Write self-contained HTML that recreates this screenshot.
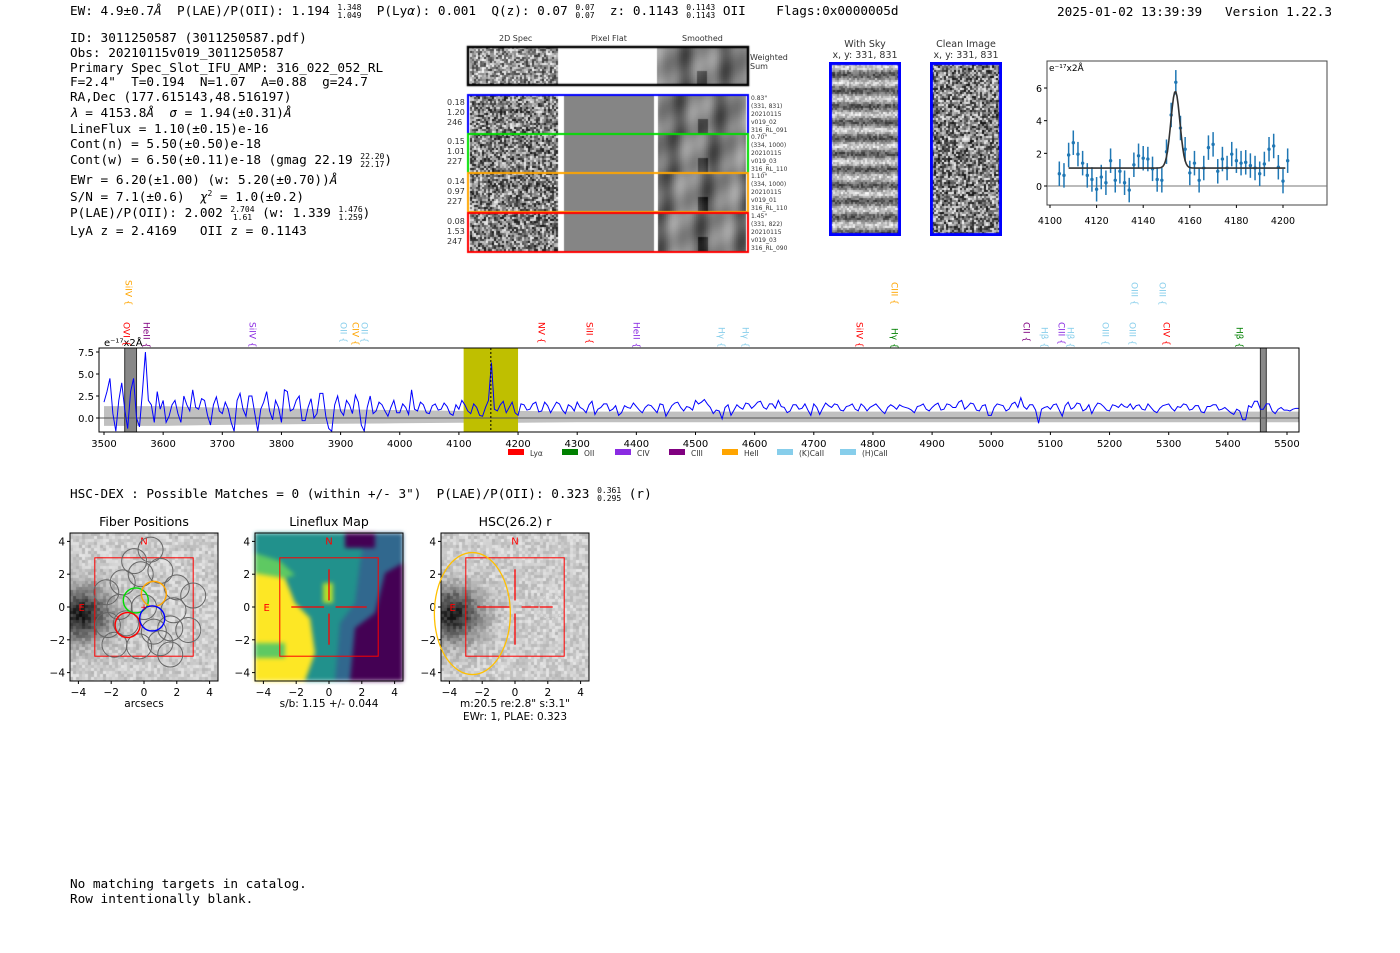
<!DOCTYPE html>
<html><head><meta charset="utf-8">
<style>
body{margin:0;background:#fff;width:1400px;height:953px;position:relative;overflow:hidden;font-family:"DejaVu Sans","Liberation Sans",sans-serif}
.mono{font-family:"DejaVu Sans Mono","Liberation Mono",monospace;font-size:12.7px;position:absolute;white-space:nowrap;color:#000}
.sm{font-size:8px;position:absolute;white-space:nowrap;color:#333}
sup,sub{font-size:8px}
.frac{display:inline-block;vertical-align:middle;font-size:8px;line-height:8px;text-align:center}
canvas{position:absolute}
</style></head><body>
<div class="mono" style="left:70px;top:3px">EW: 4.9±0.7<i>Å</i>&nbsp; P(LAE)/P(OII): 1.194 <span class="frac">1.348<br>1.049</span>&nbsp; P(Ly<i>α</i>): 0.001&nbsp; Q(z): 0.07 <span class="frac">0.07<br>0.07</span>&nbsp; z: 0.1143 <span class="frac">0.1143<br>0.1143</span> OII&nbsp;&nbsp;&nbsp; Flags:0x0000005d</div>
<div class="mono" style="left:1057px;top:4px">2025-01-02 13:39:39&nbsp;&nbsp; Version 1.22.3</div>
<div>
<div class="mono" style="left:70px;top:30px">ID: 3011250587 (3011250587.pdf)</div>
<div class="mono" style="left:70px;top:45px">Obs: 20210115v019_3011250587</div>
<div class="mono" style="left:70px;top:60px">Primary Spec_Slot_IFU_AMP: 316_022_052_RL</div>
<div class="mono" style="left:70px;top:74px">F=2.4"&nbsp; T=0.194&nbsp; N=1.07&nbsp; A=0.88&nbsp; g=24.7</div>
<div class="mono" style="left:70px;top:89px">RA,Dec (177.615143,48.516197)</div>
<div class="mono" style="left:70px;top:105px"><i>λ</i> = 4153.8<i>Å</i>&nbsp; <i>σ</i> = 1.94(±0.31)<i>Å</i></div>
<div class="mono" style="left:70px;top:121px">LineFlux = 1.10(±0.15)e-16</div>
<div class="mono" style="left:70px;top:136px">Cont(n) = 5.50(±0.50)e-18</div>
<div class="mono" style="left:70px;top:152px">Cont(w) = 6.50(±0.11)e-18 (gmag 22.19 <span class="frac">22.20<br>22.17</span>)</div>
<div class="mono" style="left:70px;top:172px">EWr = 6.20(±1.00) (w: 5.20(±0.70))<i>Å</i></div>
<div class="mono" style="left:70px;top:189px">S/N = 7.1(±0.6)&nbsp; <i>χ</i><sup>2</sup> = 1.0(±0.2)</div>
<div class="mono" style="left:70px;top:205px">P(LAE)/P(OII): 2.002 <span class="frac">2.704<br>1.61</span> (w: 1.339 <span class="frac">1.476<br>1.259</span>)</div>
<div class="mono" style="left:70px;top:223px">LyA z = 2.4169&nbsp;&nbsp; OII z = 0.1143</div>
</div>

<div class="sm" style="left:499px;top:34px">2D Spec</div>
<div class="sm" style="left:591px;top:34px">Pixel Flat</div>
<div class="sm" style="left:682px;top:34px">Smoothed</div>
<canvas id="cut" width="300" height="215" style="left:460px;top:42px"></canvas>
<div class="sm" style="left:750px;top:53px;line-height:9px">Weighted<br>Sum</div>
<div class="sm" style="left:447px;top:98px;line-height:10px">0.18<br>1.20<br>246</div>
<div class="sm" style="left:447px;top:137px;line-height:10px">0.15<br>1.01<br>227</div>
<div class="sm" style="left:447px;top:177px;line-height:10px">0.14<br>0.97<br>227</div>
<div class="sm" style="left:447px;top:217px;line-height:10px">0.08<br>1.53<br>247</div>
<div class="sm" style="left:751px;top:95px;line-height:8px;font-size:6px">0.83"<br>(331, 831)<br>20210115<br>v019_02<br>316_RL_091</div>
<div class="sm" style="left:751px;top:134px;line-height:8px;font-size:6px">0.70"<br>(334, 1000)<br>20210115<br>v019_03<br>316_RL_110</div>
<div class="sm" style="left:751px;top:173px;line-height:8px;font-size:6px">1.10"<br>(334, 1000)<br>20210115<br>v019_01<br>316_RL_110</div>
<div class="sm" style="left:751px;top:213px;line-height:8px;font-size:6px">1.45"<br>(331, 822)<br>20210115<br>v019_03<br>316_RL_090</div>

<div class="sm" style="left:825px;top:39px;font-size:9.5px;text-align:center;width:80px;line-height:11px">With Sky<br>x, y: 331, 831</div>
<div class="sm" style="left:926px;top:39px;font-size:9.5px;text-align:center;width:80px;line-height:11px">Clean Image<br>x, y: 331, 831</div>
<canvas id="sky" width="72" height="174" style="left:829px;top:62px"></canvas>
<canvas id="clean" width="72" height="174" style="left:930px;top:62px"></canvas>

<svg id="inset" width="1400" height="953" style="position:absolute;left:0;top:0"></svg>

<div class="mono" style="left:70px;top:486px">HSC-DEX : Possible Matches = 0 (within +/- 3")&nbsp; P(LAE)/P(OII): 0.323 <span class="frac">0.361<br>0.295</span> (r)</div>
<canvas id="fib" width="148" height="148" style="left:70px;top:533px"></canvas>
<canvas id="lfm" width="148" height="148" style="left:255px;top:533px;filter:blur(2px)"></canvas>
<svg id="ov" width="1400" height="953" style="position:absolute;left:0;top:0"></svg>
<canvas id="hsc" width="148" height="148" style="left:441px;top:533px"></canvas>
<svg id="ov2" width="1400" height="953" style="position:absolute;left:0;top:0"></svg>
<div class="mono" style="left:70px;top:876px;line-height:15px">No matching targets in catalog.<br>Row intentionally blank.</div>

<script>
// ===== main spectrum data (5 Å steps from 3500) =====
const specStart = 3500, specStep = 5;
const specFlux = [
1.8,3.0,4.5,0.5,-1.5,2.0,4.0,1.0,-1.2,3.0,4.5,0.0,-1.0,3.0,7.5,2.0,1.5,-0.5,3.0,1.0,
2.0,-0.5,0.2,1.5,2.0,0.5,-0.5,2.5,1.5,0.8,3.2,1.2,1.0,2.2,2.0,0.3,-0.8,1.5,2.4,0.8,
0.5,1.8,1.0,-0.5,-1.5,2.0,2.8,1.0,0.2,2.5,2.5,0.5,-1.5,1.0,1.8,3.0,0.8,-0.2,2.0,1.2,
-0.5,3.2,3.0,0.8,1.0,2.0,2.5,-0.3,-0.3,1.2,2.2,0.0,0.5,2.8,2.8,0.2,-1.2,-1.5,1.5,2.5,
0.8,0.3,2.0,1.5,0.5,2.6,1.8,-0.8,-1.5,1.2,2.5,0.5,0.8,1.8,1.5,0.8,0.2,1.2,2.0,0.6,
0.6,1.6,1.2,0.4,3.2,1.0,0.8,1.8,1.5,0.6,0.5,1.4,1.6,0.9,1.0,1.7,1.3,0.5,0.3,1.5,
1.0,2.0,1.5,0.8,0.5,1.6,1.2,0.3,0.2,1.2,2.0,6.3,1.0,0.8,1.5,1.9,0.6,1.2,1.8,0.6,
0.3,1.6,1.5,0.9,1.0,1.6,1.8,0.7,0.8,1.8,1.4,0.6,1.2,1.8,1.6,0.9,0.5,1.5,1.3,0.8,
1.8,1.2,1.0,0.6,1.5,1.9,0.4,1.0,1.2,1.6,1.6,0.8,1.0,1.4,0.3,0.6,1.4,1.2,1.1,1.7,
1.3,0.9,0.6,1.2,1.5,1.4,1.0,0.6,1.6,1.5,0.2,0.8,1.4,1.7,1.8,1.2,0.8,1.3,1.2,0.9,
2.0,1.6,1.8,2.1,1.6,1.2,0.5,0.9,0.8,-0.1,1.2,1.5,0.3,0.9,1.5,1.2,1.0,1.7,1.6,1.1,
1.4,1.8,1.9,1.2,1.0,1.6,1.6,1.1,2.0,1.3,1.2,0.6,0.8,1.5,1.5,1.0,1.1,1.6,0.9,0.3,
1.6,1.2,0.4,1.1,1.7,1.4,1.2,1.6,1.5,0.9,0.8,1.3,1.4,1.6,1.0,0.8,1.6,1.3,0.8,1.2,
1.4,1.6,1.2,0.8,0.5,1.2,1.5,1.3,1.0,1.5,1.3,1.2,1.1,0.9,0.6,1.3,1.4,1.6,1.0,0.8,
1.2,1.5,1.7,0.9,1.0,1.6,1.5,1.2,1.2,1.8,2.0,1.0,1.3,1.7,1.6,0.9,0.8,1.4,1.5,0.3,
0.3,1.2,1.6,1.5,1.4,0.8,1.0,1.6,1.8,1.2,2.3,1.3,1.0,1.5,1.5,0.9,-0.6,1.0,1.2,1.3,
1.0,1.5,1.6,0.9,0.2,1.4,1.8,1.0,1.2,1.7,1.6,0.8,1.0,1.5,0.5,1.2,1.7,1.6,1.3,0.9,
0.8,1.5,1.4,1.2,1.6,1.3,1.2,1.6,1.0,1.4,1.5,1.0,0.9,1.6,1.2,0.8,0.6,1.1,1.4,1.5,
1.6,1.1,0.8,1.3,1.2,1.6,1.5,0.9,1.0,1.4,1.4,0.7,0.6,1.3,1.3,1.5,1.5,0.9,1.0,1.2,
0.9,0.6,0.4,1.0,0.8,-0.2,-0.2,1.4,1.2,1.9,1.9,1.0,1.0,1.6,1.6,0.8,0.5,1.0,1.2,0.9,
0.9,0.8,1.0,1.1,1.1];
const errWave = [3500,3600,3700,3800,3900,4000,4100,4200,4300,4400,4500,4600,4700,4800,4900,5000,5100,5200,5300,5400,5520];
const errVal  = [1.5,1.5,1.3,1.2,1.1,1.0,0.9,0.9,0.8,0.8,0.8,0.8,0.8,0.8,0.8,0.8,0.8,0.8,0.8,0.8,0.8];
const specXTicks = [3500,3600,3700,3800,3900,4000,4100,4200,4300,4400,4500,4600,4700,4800,4900,5000,5100,5200,5300,5400,5500];
const specYTicks = [0.0,2.5,5.0,7.5];
// ===== inset fit data =====
const fitWave = [];for(let w=4104;w<=4202;w+=2)fitWave.push(w);
const fitFlux = [0.75,0.65,1.9,2.65,1.95,1.4,0.65,0.4,-0.2,0.55,0.2,1.55,0.35,0.9,0.2,-0.25,1.3,1.85,1.7,1.65,1.05,0.4,0.35,2.1,4.35,6.35,3.55,2.25,0.8,1.4,0.35,1.1,2.35,2.55,0.9,1.65,1.1,1.95,1.55,1.4,1.45,1.25,1.1,0.75,1.35,2.25,2.45,1.15,0.3,1.55];
const fitErr = 0.75;
const fitCenter = 4153.8, fitSigma = 1.94, fitAmp = 4.7, fitCont = 1.1;
const insetXTicks = [4100,4120,4140,4160,4180,4200];
const insetYTicks = [0,2,4,6];

const NS='http://www.w3.org/2000/svg';
function el(parent,tag,attrs,txt){const e=document.createElementNS(NS,tag);for(const k in attrs)e.setAttribute(k,attrs[k]);if(txt!==undefined)e.textContent=txt;parent.appendChild(e);return e;}
const svg=document.getElementById('inset');

const sx=w=>104+(w-3500)*0.5915, sy=v=>418-v*8.8;
const PL=99,PR=1299,PT=348,PB=432;
const sp=el(svg,'g',{});


el(sp,'defs',{}).innerHTML='<clipPath id="cp"><rect x="'+PL+'" y="'+PT+'" width="'+(PR-PL)+'" height="'+(PB-PT)+'"/></clipPath>';
const g=el(sp,'g',{'clip-path':'url(#cp)'});
let up='',dn='';
errWave.forEach((w,i)=>{up+=sx(w)+','+sy(errVal[i]*0.9)+' ';});
for(let i=errWave.length-1;i>=0;i--)dn+=sx(errWave[i])+','+sy(-errVal[i]*0.6)+' ';
const band=el(g,'polygon',{points:up+dn,fill:'#c0c0c0'});


const hl=el(g,'rect',{x:sx(4108),y:PT,width:sx(4200)-sx(4108),height:PB-PT,fill:'#bfbf00'});


el(g,'rect',{x:sx(3535),y:PT,width:sx(3555)-sx(3535),height:PB-PT,fill:'#888',stroke:'#333','stroke-width':1});
el(g,'rect',{x:sx(5455),y:PT,width:sx(5465)-sx(5455),height:PB-PT,fill:'#888',stroke:'#333','stroke-width':1});
el(g,'line',{x1:PL,x2:PR,y1:sy(0),y2:sy(0),stroke:'#555','stroke-width':1});
let pts='';specFlux.forEach((v,i)=>{pts+=sx(specStart+i*specStep)+','+sy(v)+' ';});
const sl=el(g,'polyline',{points:pts,fill:'none',stroke:'#0000ff','stroke-width':1});


el(g,'line',{x1:sx(4154),x2:sx(4154),y1:PT,y2:PB,stroke:'#000','stroke-dasharray':'2,2','stroke-width':1});
el(sp,'rect',{x:PL,y:PT,width:PR-PL,height:PB-PT,fill:'none',stroke:'#000','stroke-width':1});
specXTicks.forEach(t=>{el(sp,'line',{x1:sx(t),x2:sx(t),y1:PB,y2:PB+3,stroke:'#000'});el(sp,'text',{x:sx(t),y:PB+15,'font-size':10,'text-anchor':'middle'},t);});
specYTicks.forEach(t=>{el(sp,'line',{x1:PL-3,x2:PL,y1:sy(t),y2:sy(t),stroke:'#000'});el(sp,'text',{x:PL-5,y:sy(t)+4,'font-size':10,'text-anchor':'end'},t.toFixed(1));});
el(sp,'text',{x:104,y:346,'font-size':10},'e⁻¹⁷x2Å');
const legNames=['Lyα','OII','CIV','CIII','HeII','(K)CaII','(H)CaII'];
const legCols=['#ff0000','#008000','#8a2be2','#800080','#ffa500','#87ceeb','#87ceeb'];
const legX=[508,562,615,669,722,777,840];
legNames.forEach((n,i)=>{const gg=el(sp,'g',{});
el(gg,'rect',{x:legX[i],y:449,width:16,height:6,fill:legCols[i]});el(gg,'text',{x:legX[i]+22,y:456,'font-size':7.5,fill:'#333'},n);});
const labs=[[128,280,'SiIV','#ffa500'],[126,322,'OVI','#ff0000'],[146,322,'HeII','#800080'],[252,322,'SiIV','#8a2be2'],[343,322,'OII','#87ceeb'],[355,322,'CIV','#ffa500'],[364,322,'OII','#87ceeb'],[541,322,'NV','#ff0000'],[589,322,'SiII','#ff0000'],[636,322,'HeII','#8a2be2'],[721,327,'Hγ','#87ceeb'],[745,327,'Hγ','#87ceeb'],[859,322,'SiIV','#ff0000'],[894,282,'CIII','#ffa500'],[894,328,'Hγ','#008000'],[1026,322,'CII','#800080'],[1044,327,'Hβ','#87ceeb'],[1061,322,'CIII','#8a2be2'],[1070,327,'Hβ','#87ceeb'],[1105,322,'OIII','#87ceeb'],[1134,282,'OIII','#87ceeb'],[1132,322,'OIII','#87ceeb'],[1162,282,'OIII','#87ceeb'],[1166,322,'CIV','#ff0000'],[1239,327,'Hβ','#008000']];
labs.forEach(l=>{const t=el(sp,'text',{x:l[0],y:l[1],'font-size':9,fill:l[3],transform:'rotate(90 '+l[0]+' '+l[1]+')','dominant-baseline':'middle'},l[2]+' {');});

const ix=w=>1050+(w-4100)*2.33, iy=v=>186-v*16.33;
const ig=el(svg,'g',{});


el(ig,'rect',{x:1047,y:61,width:280,height:144,fill:'#fff',stroke:'#444'});
el(ig,'line',{x1:1047,x2:1327,y1:iy(0),y2:iy(0),stroke:'#777'});
fitWave.forEach((w,i)=>{el(ig,'line',{x1:ix(w),x2:ix(w),y1:iy(fitFlux[i]-fitErr),y2:iy(fitFlux[i]+fitErr),stroke:'#1f77b4','stroke-width':1.5});
const c=el(ig,'circle',{cx:ix(w),cy:iy(fitFlux[i]),r:1.7,fill:'#1f77b4'});});
let fp='';for(let w=4108;w<=4201;w+=0.5){fp+=ix(w)+','+iy(fitCont+fitAmp*Math.exp(-0.5*((w-fitCenter)/fitSigma)**2))+' ';}
const fl=el(ig,'polyline',{points:fp,fill:'none',stroke:'#333','stroke-width':1.6});

insetXTicks.forEach(t=>{el(ig,'line',{x1:ix(t),x2:ix(t),y1:205,y2:208,stroke:'#000'});el(ig,'text',{x:ix(t),y:224,'font-size':9.5,'text-anchor':'middle'},t);});
insetYTicks.forEach(t=>{el(ig,'line',{x1:1044,x2:1047,y1:iy(t),y2:iy(t),stroke:'#000'});el(ig,'text',{x:1042,y:iy(t)+4,'font-size':9.5,'text-anchor':'end'},t);});
el(ig,'text',{x:1049,y:71,'font-size':9},'e⁻¹⁷x2Å');

function h(x,y,s){let n=(x*374761393+y*668265263+s*982451653)|0;n=(n^(n>>>13))*1274126177|0;return ((n^(n>>>16))>>>0)/4294967295;}
function noise(ctx,x0,y0,w,h0,base,amp,ps,seed){for(let y=0;y<h0;y+=ps)for(let x=0;x<w;x+=ps){const v=Math.max(0,Math.min(255,base+(h(x,y,seed)-0.5)*amp));ctx.fillStyle='rgb('+v+','+v+','+v+')';ctx.fillRect(x0+x,y0+y,ps,ps);}}
function smooth(ctx,x0,y0,w,h0,seed){for(let x=0;x<w;x+=2){const col=120+Math.sin(x/7+seed)*30+Math.sin(x/3.1+seed*2)*12;for(let y=0;y<h0;y+=2){let v=col+Math.sin(y/6+x/11+seed)*15;if(Math.abs(x-44)<6&&y>h0*0.6)v-=60;v=Math.max(0,Math.min(255,v));ctx.fillStyle='rgb('+v+','+v+','+v+')';ctx.fillRect(x0+x,y0+y,2,2);}}}
const cc=document.getElementById('cut').getContext('2d');
noise(cc,10,5,88,38,150,200,2,1);cc.fillStyle='#fff';cc.fillRect(98,5,99,38);smooth(cc,197,5,89,38,1);
cc.lineWidth=2.5;cc.strokeStyle='#000';cc.strokeRect(8,5,280,38);
const rowY=[53,92,131,171],rowC=['#0000ff','#00dd00','#ffa500','#ff0000'];
rowY.forEach((y,i)=>{noise(cc,10,y,88,39,130,220,2,10+i);cc.fillStyle='#fff';cc.fillRect(98,y,6,39);cc.fillStyle='#858585';cc.fillRect(104,y,90,39);cc.fillStyle='#fff';cc.fillRect(194,y,4,39);smooth(cc,198,y,88,39,2+i);});
rowY.forEach((y,i)=>{cc.strokeStyle=rowC[i];cc.lineWidth=2;cc.strokeRect(8,y,280,39);});
const sk=document.getElementById('sky').getContext('2d');
for(let y=0;y<174;y+=2)for(let x=0;x<72;x+=2){const stripe=Math.sin(y/174*2*Math.PI*11)*60;const v=Math.max(0,Math.min(255,150+stripe+(h(x,y,5)-0.5)*90));sk.fillStyle='rgb('+v+','+v+','+v+')';sk.fillRect(x,y,2,2);}
sk.strokeStyle='#0000ff';sk.lineWidth=3;sk.strokeRect(1.5,1.5,69,171);
const cl=document.getElementById('clean').getContext('2d');noise(cl,0,0,72,174,130,230,2,7);
cl.strokeStyle='#0000ff';cl.lineWidth=3;cl.strokeRect(1.5,1.5,69,171);
function galaxy(ctx,seed){for(let y=0;y<148;y+=3)for(let x=0;x<148;x+=3){const dx=(x-10)/28,dy=(y-80)/26;const gal=Math.exp(-(dx*dx+dy*dy))*170;const v=Math.max(0,Math.min(255,205-gal+(h(x,y,seed)-0.5)*50));ctx.fillStyle='rgb('+v+','+v+','+v+')';ctx.fillRect(x,y,3,3);}}
galaxy(document.getElementById('fib').getContext('2d'),3);
galaxy(document.getElementById('hsc').getContext('2d'),4);
const lf=document.getElementById('lfm').getContext('2d');
lf.fillStyle='#21918c';lf.fillRect(0,0,148,148);
lf.fillStyle='#fde725';lf.beginPath();lf.moveTo(0,40);lf.lineTo(30,45);lf.lineTo(40,70);lf.lineTo(55,85);lf.lineTo(60,120);lf.lineTo(50,148);lf.lineTo(0,148);lf.fill();
lf.fillStyle='#5ec962';lf.beginPath();lf.moveTo(0,20);lf.lineTo(25,28);lf.lineTo(40,42);lf.lineTo(30,45);lf.lineTo(0,40);lf.fill();lf.fillRect(0,110,30,15);
lf.fillStyle='#31688e';lf.beginPath();lf.moveTo(110,0);lf.lineTo(148,0);lf.lineTo(148,148);lf.lineTo(80,148);lf.lineTo(85,90);lf.lineTo(100,70);lf.lineTo(105,30);lf.fill();
lf.fillStyle='#440154';lf.beginPath();lf.moveTo(148,30);lf.lineTo(148,148);lf.lineTo(95,148);lf.lineTo(100,95);lf.lineTo(120,80);lf.lineTo(130,40);lf.fill();lf.fillRect(90,0,30,15);
lf.fillStyle='#b5de2b';lf.fillRect(68,50,10,20);

const ov=document.getElementById('ov2');
const panels=[[70,'Fiber Positions','fiber-positions-panel'],[255,'Lineflux Map','lineflux-map-panel'],[441,'HSC(26.2) r','hsc-r-panel']];
const ticksArc=[-4,-2,0,2,4];
panels.forEach(p=>{const x0=p[0],y0=533;const px=v=>x0+74+v*16.4,py=v=>y0+74-v*16.4;
const gp=el(ov,'g',{});
el(gp,'text',{x:x0+74,y:526,'font-size':12.5,'text-anchor':'middle'},p[1]);
el(gp,'rect',{x:x0,y:y0,width:148,height:148,fill:'none',stroke:'#000'});
ticksArc.forEach(t=>{el(gp,'line',{x1:px(t),x2:px(t),y1:y0+148,y2:y0+151,stroke:'#000'});el(gp,'text',{x:px(t),y:y0+163,'font-size':10.5,'text-anchor':'middle'},t<0?'−'+(-t):t);
el(gp,'line',{x1:x0-3,x2:x0,y1:py(t),y2:py(t),stroke:'#000'});el(gp,'text',{x:x0-5,y:py(t)+4,'font-size':10.5,'text-anchor':'end'},t<0?'−'+(-t):t);});
el(gp,'rect',{x:px(-3),y:py(3),width:16.4*6,height:16.4*6,fill:'none',stroke:'#ff0000','stroke-width':1});
el(gp,'text',{x:px(0),y:py(3.8),'font-size':10,fill:'#ff0000','text-anchor':'middle'},'N');
el(gp,'text',{x:px(-3.8),y:py(0)+4,'font-size':10,fill:'#ff0000','text-anchor':'middle'},'E');
if(p[0]!==70){[[-2.3,0,-0.3,0],[0.4,0,2.3,0],[0,0.4,0,2.3],[0,-0.4,0,-2.3]].forEach(s=>el(gp,'line',{x1:px(s[0]),y1:py(s[1]),x2:px(s[2]),y2:py(s[3]),stroke:'#ff0000','stroke-width':1.3}));}
if(p[0]===70){const fibs=[[-0.6,2.8],[0.4,3.5],[-1.3,1.5],[-0.2,2.0],[1,2.2],[-2.3,0.9],[2,1.2],[-1.5,0],[1.8,-0.2],[3,0.7],[-2.2,-1.1],[0.6,-1.5],[1.6,-1.3],[2.7,-1.4],[-1.8,-2.3],[-0.3,-2.4],[1,-2.2],[1.6,-2.9],[-1.1,-1],[0,0]];
fibs.forEach(f=>el(gp,'circle',{cx:px(f[0]),cy:py(f[1]),r:12.5,fill:'none',stroke:'#666','stroke-width':1}));
[[-0.5,0.4,'#00dd00'],[0.6,0.8,'#ffa500'],[-1,-1.1,'#ff0000'],[0.5,-0.7,'#0000ff']].forEach(f=>el(gp,'circle',{cx:px(f[0]),cy:py(f[1]),r:12.5,fill:'none',stroke:f[2],'stroke-width':1.4}));
el(gp,'text',{x:px(0),y:py(0)+3,'font-size':9,fill:'#ff0000','text-anchor':'middle'},'+');
el(gp,'text',{x:x0+74,y:707,'font-size':10.5,'text-anchor':'middle'},'arcsecs');}
if(p[0]===255)el(gp,'text',{x:x0+74,y:707,'font-size':10.5,'text-anchor':'middle'},'s/b: 1.15 +/- 0.044');
if(p[0]===441){el(gp,'ellipse',{cx:px(-2.6),cy:py(-0.4),rx:38,ry:61,fill:'none',stroke:'#ffc000','stroke-width':1.3});
el(gp,'circle',{cx:px(2.2),cy:py(0),r:12,fill:'none',stroke:'#ddd','stroke-dasharray':'2,2'});
el(gp,'text',{x:x0+74,y:707,'font-size':10.5,'text-anchor':'middle'},'m:20.5  re:2.8"  s:3.1"');
el(gp,'text',{x:x0+74,y:720,'font-size':10.5,'text-anchor':'middle'},'EWr: 1, PLAE: 0.323');}
});
</script>
</body></html>
